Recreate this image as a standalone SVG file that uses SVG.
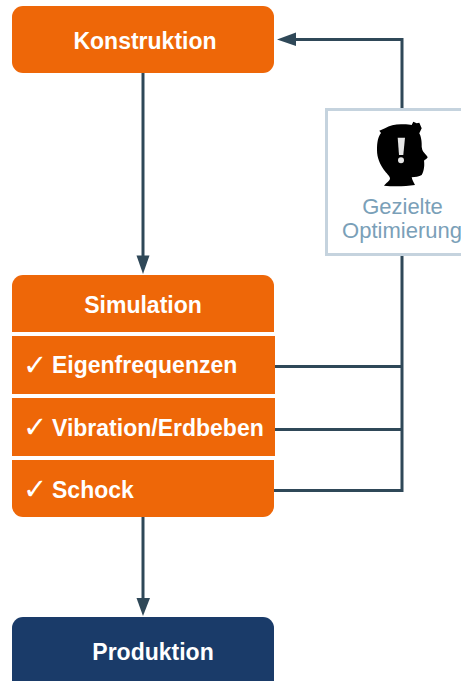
<svg xmlns="http://www.w3.org/2000/svg" width="461" height="681" viewBox="0 0 461 681">
<style>
.o{fill:#ee6708}
.b{fill:#1a3b69}
.t{font-family:"Liberation Sans",Arial,sans-serif;font-weight:700;font-size:23px;fill:#fff}
.m{text-anchor:middle}
.c{font-family:"DejaVu Sans",sans-serif;font-size:29px;fill:#fff}
.g{font-family:"Liberation Sans",Arial,sans-serif;font-size:22px;fill:#7aa0b8;text-anchor:middle}
.l{fill:none;stroke:#2f4858;stroke-width:3}
</style>
<g id="connectors">
<path class="l" d="M143 72V256" />
<path d="M136.500 255.500H149.500L143 274Z" fill="#2f4858"/>
<path class="l" d="M143 517V599"/>
<path d="M136.500 598H150L143 616Z" fill="#2f4858"/>
<path class="l" d="M402 108V39.500H295"/>
<path d="M296 32.500V46L277 39.500Z" fill="#2f4858"/>
<path class="l" d="M402 256V490.500H274M274 366.500H402M274 429.500H402"/>
</g>
<g id="konstruktion">
<rect class="o" x="12" y="6" width="262" height="67" rx="11"/>
<text class="t m" x="145" y="49">Konstruktion</text>
</g>
<g id="simulation">
<path class="o" d="M12 332V286A11 11 0 0 1 23 275H263A11 11 0 0 1 274 286V332Z"/>
<text class="t m" x="143" y="313">Simulation</text>
</g>
<g id="eigenfrequenzen">
<rect class="o" x="12" y="336" width="263" height="58"/>
<text class="c" x="23" y="375">✓</text>
<text class="t" x="52" y="373">Eigenfrequenzen</text>
</g>
<g id="vibration">
<rect class="o" x="12" y="398" width="263" height="58"/>
<text class="c" x="23" y="437">✓</text>
<text class="t" x="52" y="436">Vibration/Erdbeben</text>
</g>
<g id="schock">
<path class="o" d="M12 460H274V506A11 11 0 0 1 263 517H23A11 11 0 0 1 12 506Z"/>
<text class="c" x="23" y="499">✓</text>
<text class="t" x="52" y="498">Schock</text>
</g>
<g id="produktion">
<rect class="b" x="12" y="617" width="262" height="80" rx="11"/>
<text class="t m" x="153" y="660">Produktion</text>
</g>
<g id="optimierung">
<rect x="326.500" y="109.500" width="200" height="145" fill="#fff" stroke="#c5d3de" stroke-width="3"/>
<path d="M384 185.700C386 183 390 181 390 178.300C390 176 386 173 384 170C380 164 377 158 377 150C377 142 378 137 381 133L379.300 130.700L385 128.300C390 125 396 124 403.300 124.300C407 124.300 410 124.500 411.700 125L413.300 121.700L416.700 123.300L419.300 122.700L421.700 128.300L419.300 133.300C421 136 422 142 421.700 146.700C422 149 422.500 150.500 423.300 151.700C425 154 427 155.500 427.700 157.300C427 159 425 159.500 424 160.700C424.500 164 424.500 170 421.700 175C419 177 415 176.700 411.700 177.300C412 180 414 183 415 185C405 186.500 393 186.500 384 185.700Z" fill="#000"/>
<path d="M397.700 137.700H405L403.300 155H399Z" fill="#e6e6e6"/>
<circle cx="401" cy="160.300" r="3" fill="#e6e6e6"/>
<text class="g" x="402.500" y="214">Gezielte</text>
<text class="g" x="402" y="238">Optimierung</text>
</g>
</svg>
